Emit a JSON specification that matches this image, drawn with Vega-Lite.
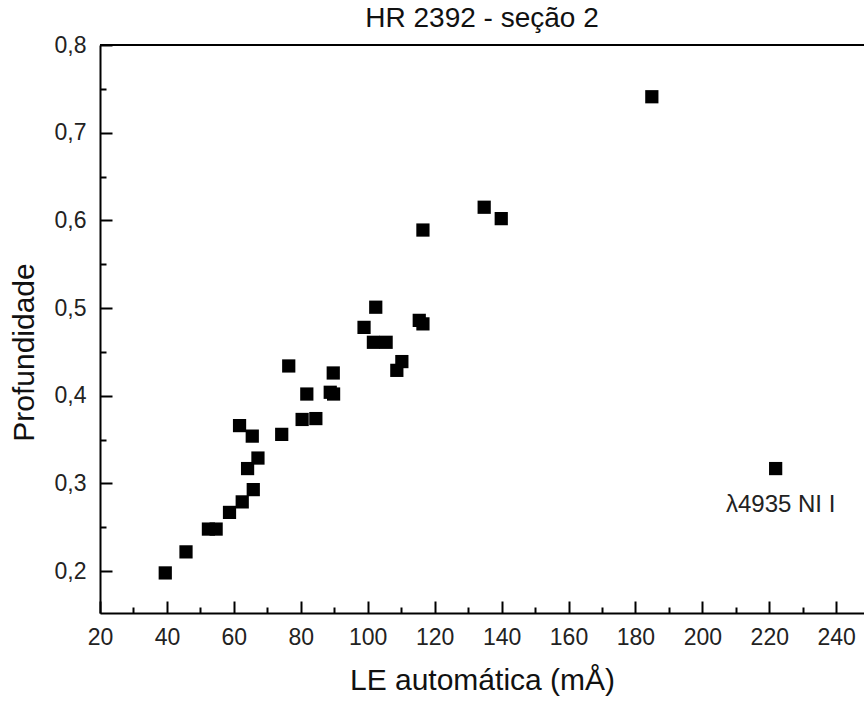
{
  "$schema": "https://vega.github.io/schema/vega-lite/v6.json",
  "autosize": "none",
  "width": 764,
  "height": 568,
  "padding": {"left": 100, "top": 45, "right": 0, "bottom": 89},
  "background": "white",
  "config": {
    "view": {"stroke": null},
    "font": "Liberation Sans"
  },
  "title": {
    "text": "HR 2392 - seção 2",
    "font": "Liberation Sans",
    "fontSize": 28,
    "fontWeight": "normal",
    "color": "#111",
    "frame": "group",
    "anchor": "middle",
    "baseline": "alphabetic",
    "offset": 5,
    "dy": 26
  },
  "data": {
    "values": [
      {"le": 39.5, "prof": 0.198},
      {"le": 45.7, "prof": 0.222},
      {"le": 52.4, "prof": 0.248},
      {"le": 54.7, "prof": 0.248},
      {"le": 58.7, "prof": 0.267},
      {"le": 62.5, "prof": 0.279},
      {"le": 65.8, "prof": 0.293},
      {"le": 64.1, "prof": 0.317},
      {"le": 67.2, "prof": 0.329},
      {"le": 61.7, "prof": 0.366},
      {"le": 65.5, "prof": 0.354},
      {"le": 74.3, "prof": 0.356},
      {"le": 76.4, "prof": 0.434},
      {"le": 80.4, "prof": 0.373},
      {"le": 84.5, "prof": 0.374},
      {"le": 81.8, "prof": 0.402},
      {"le": 88.8, "prof": 0.404},
      {"le": 89.8, "prof": 0.402},
      {"le": 89.7, "prof": 0.426},
      {"le": 102.4, "prof": 0.501},
      {"le": 98.9, "prof": 0.478},
      {"le": 101.7, "prof": 0.461},
      {"le": 105.5, "prof": 0.461},
      {"le": 115.4, "prof": 0.486},
      {"le": 116.5, "prof": 0.482},
      {"le": 110.2, "prof": 0.439},
      {"le": 108.7, "prof": 0.429},
      {"le": 116.5, "prof": 0.589},
      {"le": 134.8, "prof": 0.615},
      {"le": 139.9, "prof": 0.602},
      {"le": 184.9, "prof": 0.741},
      {"le": 221.9, "prof": 0.317, "rotulo": "λ4935 NI I"}
    ]
  },
  "encoding": {
    "x": {
      "field": "le",
      "type": "quantitative",
      "scale": {"domain": [20, 248.3], "nice": false, "zero": false},
      "axis": {
        "title": "LE automática (mÅ)",
        "titleFont": "Liberation Sans",
        "titleFontSize": 30,
        "titleFontWeight": "normal",
        "titleColor": "#111",
        "titleBaseline": "alphabetic",
        "titleY": 76,
        "values": [20, 30, 40, 50, 60, 70, 80, 90, 100, 110, 120, 130, 140, 150, 160, 170, 180, 190, 200, 210, 220, 230, 240],
        "labelExpr": "datum.value % 20 == 0 ? datum.value : ''",
        "labelFont": "Liberation Sans",
        "labelFontSize": 23,
        "labelColor": "#222",
        "labelFlush": false,
        "labelOverlap": false,
        "labelPadding": 25,
        "grid": false,
        "domainColor": "black",
        "domainWidth": 2,
        "tickColor": "black",
        "tickWidth": 2,
        "tickSize": {"condition": {"test": "datum.value % 20 == 0", "value": -12}, "value": -6}
      }
    },
    "y": {
      "field": "prof",
      "type": "quantitative",
      "scale": {"domain": [0.1523, 0.8], "nice": false, "zero": false},
      "axis": {
        "title": "Profundidade",
        "titleFont": "Liberation Sans",
        "titleFontSize": 30,
        "titleFontWeight": "normal",
        "titleColor": "#111",
        "titleBaseline": "alphabetic",
        "titleX": -67,
        "titleY": 307,
        "values": [0.2, 0.25, 0.3, 0.35, 0.4, 0.45, 0.5, 0.55, 0.6, 0.65, 0.7, 0.75, 0.8],
        "labelExpr": "round(datum.value * 20) % 2 == 0 ? replace(format(datum.value, '.1f'), '.', ',') : ''",
        "labelFont": "Liberation Sans",
        "labelFontSize": 23,
        "labelColor": "#222",
        "labelFlush": false,
        "labelOverlap": false,
        "labelPadding": 26,
        "grid": false,
        "domainColor": "black",
        "domainWidth": 2,
        "tickColor": "black",
        "tickWidth": 2,
        "tickSize": {"condition": {"test": "round(datum.value * 20) % 2 == 0", "value": -12}, "value": -6}
      }
    }
  },
  "layer": [
    {
      "mark": {"type": "rule", "color": "black", "strokeWidth": 2},
      "encoding": {"y": {"datum": 0.8}, "x": {"datum": 20}, "x2": {"datum": 248.3}}
    },
    {
      "mark": {"type": "point", "shape": "square", "filled": true, "color": "black", "opacity": 1, "size": 175}
    },
    {
      "transform": [{"filter": "isValid(datum.rotulo)"}],
      "mark": {"type": "text", "font": "Liberation Sans", "fontSize": 24, "color": "#222", "baseline": "alphabetic", "align": "center", "dx": 5, "dy": 43},
      "encoding": {"text": {"field": "rotulo"}}
    }
  ]
}
